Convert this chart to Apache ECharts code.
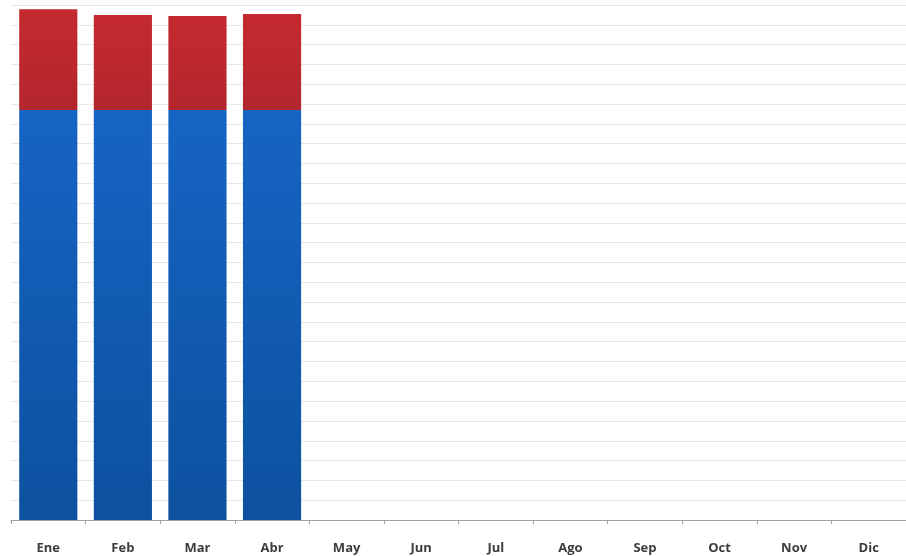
<!DOCTYPE html>
<html>
<head>
<meta charset="utf-8">
<script src="https://cdn.jsdelivr.net/npm/echarts@6/dist/echarts.min.js"></script>
<style>
html,body{margin:0;padding:0;background:#fff;}
#chart{width:906px;height:556px;}
</style>
</head>
<body>
<div id="chart"></div>
<script>
const categories = ['Ene','Feb','Mar','Abr','May','Jun','Jul','Ago','Sep','Oct','Nov','Dic'];
const blueValues = [103.5, 103.5, 103.5, 103.5, null, null, null, null, null, null, null, null];
const redValues = [25.4, 24.0, 23.7, 24.2, null, null, null, null, null, null, null, null];
const yMax = 130;
const yInterval = 5;

const chart = echarts.init(document.getElementById('chart'));
chart.setOption({
  animation: false,
  backgroundColor: '#ffffff',
  grid: { left: 11, right: 0, top: 5, bottom: 36 },
  xAxis: {
    type: 'category',
    data: categories,
    boundaryGap: true,
    axisLine: { lineStyle: { color: '#a0a0a0', width: 1 } },
    axisTick: { show: true, length: 4, lineStyle: { color: '#a0a0a0' } },
    axisLabel: { margin: 22, color: '#3c3c3c', fontFamily: 'Open Sans', fontWeight: 'bold', fontSize: 13 }
  },
  yAxis: {
    type: 'value',
    min: 0,
    max: yMax,
    interval: yInterval,
    axisLabel: { show: false },
    axisLine: { show: false },
    axisTick: { show: false },
    splitLine: { lineStyle: { color: '#e6e6e6', width: 1 } }
  },
  series: [
    {
      name: 'Azul',
      type: 'bar',
      stack: 'total',
      data: blueValues,
      barCategoryGap: '22%',
      itemStyle: {
        color: new echarts.graphic.LinearGradient(0, 0, 0, 1, [
          { offset: 0, color: '#1664c4' },
          { offset: 1, color: '#0d519f' }
        ])
      }
    },
    {
      name: 'Rojo',
      type: 'bar',
      stack: 'total',
      data: redValues,
      barCategoryGap: '22%',
      itemStyle: {
        color: new echarts.graphic.LinearGradient(0, 0, 0, 1, [
          { offset: 0, color: '#c42a30' },
          { offset: 1, color: '#b3262c' }
        ])
      }
    }
  ]
});
</script>
</body>
</html>
